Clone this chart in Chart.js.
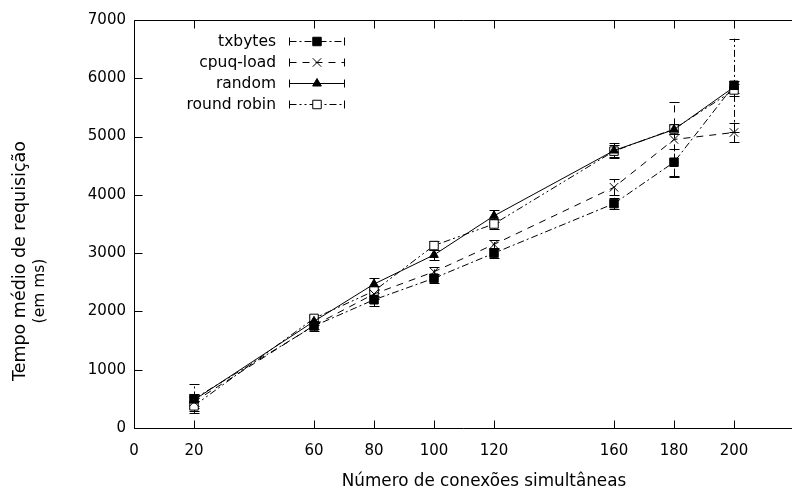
<!DOCTYPE html>
<html>
<head>
<meta charset="utf-8">
<script src="https://cdn.jsdelivr.net/npm/chart.js@4/dist/chart.umd.min.js"></script>
<style>
  html, body { margin: 0; padding: 0; background: #fff; }
  #wrap { width: 792px; height: 490px; }
</style>
</head>
<body>
<div id="wrap"><canvas id="tempoChart"></canvas></div>
<script>
const conexoes = [20, 60, 80, 100, 120, 160, 180, 200];
const xTicks = [0, 20, 60, 80, 100, 120, 160, 180, 200];
const yTicks = [0, 1000, 2000, 3000, 4000, 5000, 6000, 7000];

const txbytes = [500, 1750, 2200, 2570, 3000, 3850, 4560, 5880];
const txbytesErr = [250, 80, 110, 80, 80, 100, 230, 800];
const cpuqLoad = [450, 1760, 2300, 2680, 3150, 4130, 4950, 5070];
const cpuqLoadErr = [100, 60, 90, 80, 80, 140, 650, 170];
const random = [480, 1830, 2470, 2970, 3640, 4760, 5120, 5850];
const randomErr = [100, 70, 100, 90, 100, 130, 80, 100];
const roundRobin = [380, 1880, 2350, 3130, 3500, 4750, 5130, 5800];
const roundRobinErr = [90, 60, 80, 80, 80, 100, 80, 100];

const xTitle = 'Número de conexões simultâneas';
const yTitle = ['Tempo médio de requisição', '(em ms)'];

const FONT = 'DejaVu Sans';

function pts(vals) {
    return conexoes.map((x, i) => ({ x: x, y: vals[i] }));
}

const series = [
    { label: 'txbytes', data: txbytes, err: txbytesErr, dash: [7, 3, 2, 3], point: 'rect', fill: '#000', r: 6 },
    { label: 'cpuq-load', data: cpuqLoad, err: cpuqLoadErr, dash: [7, 6], point: 'crossRot', fill: '#000', r: 6 },
    { label: 'random', data: random, err: randomErr, dash: [], point: 'triangle', fill: '#000', r: 5 },
    { label: 'round robin', data: roundRobin, err: roundRobinErr, dash: [7, 3, 2, 3, 2, 3], point: 'rect', fill: '#fff', r: 6 }
];

// barras de erro desenhadas pelas escalas do grafico
const errorBars = {
    id: 'errorBars',
    beforeDatasetsDraw(chart) {
        const ctx = chart.ctx;
        const xs = chart.scales.x, ys = chart.scales.y;
        ctx.save();
        ctx.strokeStyle = '#000';
        ctx.lineWidth = 1;
        series.forEach(s => {
            s.data.forEach((v, i) => {
                const px = Math.round(xs.getPixelForValue(conexoes[i])) + 0.5;
                const lo = ys.getPixelForValue(v - s.err[i]);
                const hi = ys.getPixelForValue(v + s.err[i]);
                ctx.setLineDash(s.dash);
                ctx.beginPath();
                ctx.moveTo(px, lo);
                ctx.lineTo(px, hi);
                ctx.stroke();
                ctx.setLineDash([]);
                ctx.beginPath();
                ctx.moveTo(px - 5, Math.round(lo) + 0.5);
                ctx.lineTo(px + 5, Math.round(lo) + 0.5);
                ctx.moveTo(px - 5, Math.round(hi) + 0.5);
                ctx.lineTo(px + 5, Math.round(hi) + 0.5);
                ctx.stroke();
            });
        });
        ctx.restore();
    }
};

// moldura, marcas internas, titulos e legenda, estilo gnuplot
const frame = {
    id: 'frame',
    afterDraw(chart) {
        const ctx = chart.ctx;
        const a = chart.chartArea;
        const xs = chart.scales.x, ys = chart.scales.y;
        ctx.save();
        ctx.strokeStyle = '#000';
        ctx.lineWidth = 1;
        const L = Math.round(a.left) + 0.5, T = Math.round(a.top) + 0.5, B = Math.round(a.bottom) + 0.5;
        ctx.beginPath();
        ctx.moveTo(792, T); ctx.lineTo(L, T); ctx.lineTo(L, B); ctx.lineTo(792, B);
        xTicks.forEach(t => {
            const px = Math.round(xs.getPixelForValue(t)) + 0.5;
            ctx.moveTo(px, B); ctx.lineTo(px, B - 8);
            ctx.moveTo(px, T); ctx.lineTo(px, T + 8);
        });
        yTicks.forEach(t => {
            const py = Math.round(ys.getPixelForValue(t)) + 0.5;
            ctx.moveTo(L, py); ctx.lineTo(L + 8, py);
        });
        ctx.stroke();

        ctx.fillStyle = '#000';
        ctx.textAlign = 'center';
        ctx.textBaseline = 'middle';
        ctx.font = '16.8px ' + FONT;
        ctx.fillText(xTitle, 484, 482);
        ctx.save();
        ctx.translate(20, 261);
        ctx.rotate(-Math.PI / 2);
        ctx.font = '17.5px ' + FONT;
        ctx.fillText(yTitle[0], 0, 0);
        ctx.restore();
        ctx.save();
        ctx.translate(40, 291);
        ctx.rotate(-Math.PI / 2);
        ctx.font = '15.5px ' + FONT;
        ctx.fillText(yTitle[1], 0, 0);
        ctx.restore();

        // legenda
        ctx.font = '15.5px ' + FONT;
        ctx.textAlign = 'right';
        series.forEach((s, i) => {
            const y = 41 + i * 21 + 0.5;
            ctx.fillText(s.label, 276, y);
            const x0 = 289.5, x1 = 344.5, xm = 317;
            ctx.setLineDash(s.dash);
            ctx.beginPath();
            ctx.moveTo(x0, y); ctx.lineTo(x1, y);
            ctx.stroke();
            ctx.setLineDash([]);
            ctx.beginPath();
            ctx.moveTo(x0, y - 4); ctx.lineTo(x0, y + 4);
            ctx.moveTo(x1, y - 4); ctx.lineTo(x1, y + 4);
            ctx.stroke();
            ctx.fillStyle = s.fill;
            ctx.strokeStyle = '#000';
            Chart.helpers.drawPoint(ctx, { pointStyle: s.point, radius: s.r, borderWidth: 1 }, xm, y);
            ctx.fillStyle = '#000';
        });
        ctx.restore();
    }
};

const ctx = document.getElementById('tempoChart').getContext('2d');
const tempoChart = new Chart(ctx, {
    type: 'line',
    data: {
        datasets: series.map(s => ({
            label: s.label,
            data: pts(s.data),
            borderColor: '#000',
            backgroundColor: s.fill,
            borderWidth: 1,
            borderDash: s.dash,
            pointStyle: s.point,
            pointRadius: s.r,
            pointBorderColor: '#000',
            pointBackgroundColor: s.fill,
            pointBorderWidth: 1,
            tension: 0,
            fill: false
        }))
    },
    options: {
        responsive: true,
        maintainAspectRatio: false,
        animation: false,
        layout: { padding: { top: 20, right: 2, left: 0, bottom: 0 } },
        plugins: {
            legend: { display: false },
            tooltip: { enabled: false }
        },
        scales: {
            x: {
                type: 'linear',
                min: 0,
                max: 217,
                afterBuildTicks: scale => { scale.ticks = xTicks.map(v => ({ value: v })); },
                afterFit: scale => { scale.height = 62; },
                grid: { display: false, drawTicks: false },
                border: { display: false },
                ticks: {
                    color: '#000', padding: 14, font: { family: FONT, size: 15 },
                    callback: v => String(v)
                }
            },
            y: {
                min: 0,
                max: 7000,
                afterBuildTicks: scale => { scale.ticks = yTicks.map(v => ({ value: v })); },
                afterFit: scale => { scale.width = 134; },
                grid: { display: false, drawTicks: false },
                border: { display: false },
                ticks: {
                    color: '#000', padding: 8, font: { family: FONT, size: 15 },
                    callback: v => String(v)
                }
            }
        }
    },
    plugins: [errorBars, frame]
});
</script>
</body>
</html>
